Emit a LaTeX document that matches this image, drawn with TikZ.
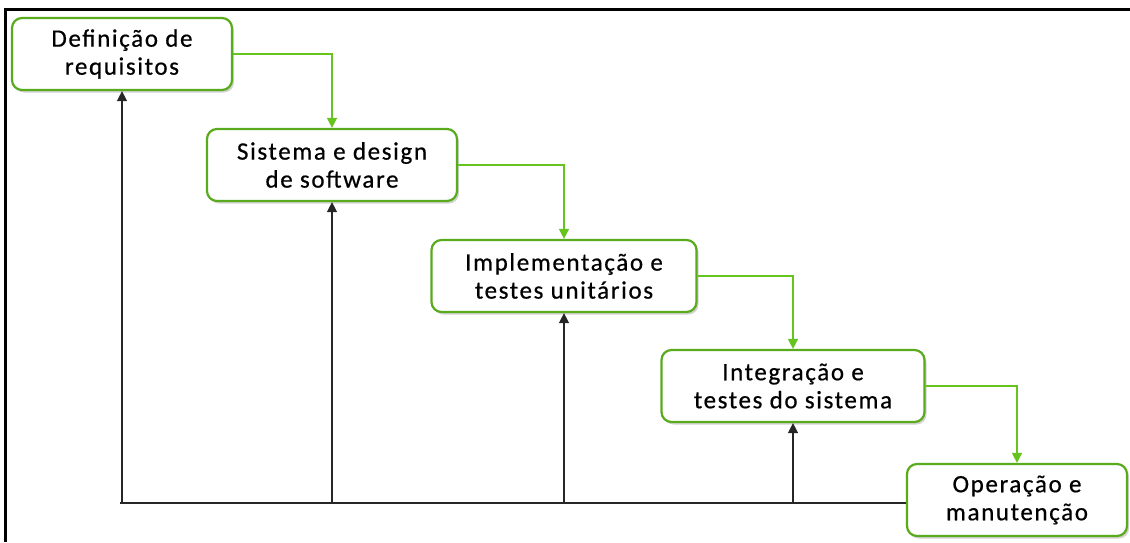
\documentclass[tikz,border=0pt]{standalone}
\usepackage{fontspec}
\setmainfont{Carlito}[LetterSpace=6.5, FakeBold=0.6]
\usetikzlibrary{positioning, arrows.meta, shadows}
\definecolor{stepgreen}{HTML}{5AAA1E}
\definecolor{flowgreen}{HTML}{66C41E}
\tikzset{
	phase/.style={draw=stepgreen, line width=2.2pt, rounded corners=10pt, fill=white,
		align=center, minimum height=72pt, inner sep=0pt, font=\fontsize{25}{28}\selectfont,
		drop shadow={shadow xshift=2pt, shadow yshift=-2.5pt, opacity=0.35}}
}
\tikzset{
	flow/.style={draw=flowgreen, line width=1.4pt, -{Triangle[length=10pt,width=10pt]}}
}
\tikzset{
	feedback/.style={draw=black!85, line width=1.4pt, -{Triangle[length=10pt,width=10pt]}}
}

\begin{document}
\begin{tikzpicture}[x=1pt, y=-1pt]
      \useasboundingbox (0,0) rectangle (1130,542);

      % page frame (top and left edge)
      \draw[line width=3pt] (5.5,542) -- (5.5,9) -- (1130,9);

      % phases of the waterfall
      \node[phase, minimum width=220pt] (req) at (122,54) {Definição de\\requisitos};
      \node[phase, minimum width=250pt] (design) at (332,165) {Sistema e design\\de software};
      \node[phase, minimum width=265pt] (impl) at (564,276) {Implementação e\\testes unitários};
      \node[phase, minimum width=263pt] (integ) at (793,386) {Integração e\\testes do sistema};
      \node[phase, minimum width=220pt] (ops) at (1017,500) {Operação e\\manutenção};

      % forward flow, phase to phase
      \draw[flow] (req.east) -| (design.north);
      \draw[flow] (design.east) -| (impl.north);
      \draw[flow] (impl.east) -| (integ.north);
      \draw[flow] (integ.east) -| (ops.north);

      % feedback line back to the earlier phases
      \coordinate (base) at (120,503);
      \draw[draw=black!85, line width=1.4pt] (base) -- (base -| ops.west);
      \foreach \n in {req,design,impl,integ}
        \draw[feedback] (\n.south |- base) -- (\n.south);
    \end{tikzpicture}
\end{document}
